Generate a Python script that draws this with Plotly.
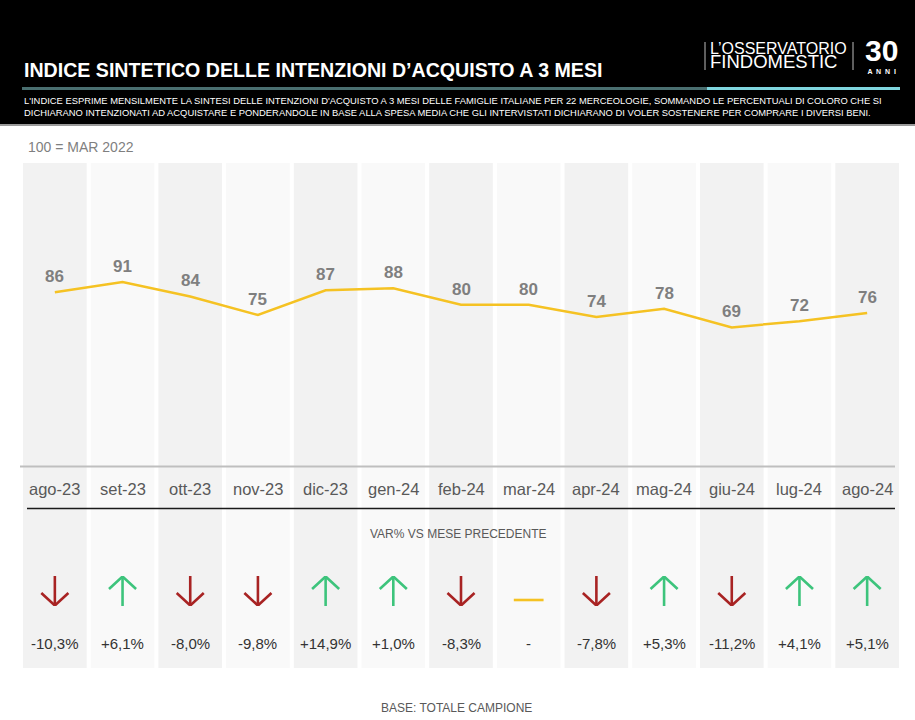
import plotly.graph_objects as go

# ---------------- data ----------------
months = ["ago-23", "set-23", "ott-23", "nov-23", "dic-23", "gen-24", "feb-24",
          "mar-24", "apr-24", "mag-24", "giu-24", "lug-24", "ago-24"]
index_values = [86, 91, 84, 75, 87, 88, 80, 80, 74, 78, 69, 72, 76]
var_pct = [-10.3, 6.1, -8.0, -9.8, 14.9, 1.0, -8.3, 0.0, -7.8, 5.3, -11.2, 4.1, 5.1]

TITLE = "INDICE SINTETICO DELLE INTENZIONI D\u2019ACQUISTO A 3 MESI"
SUB1 = ("L'INDICE ESPRIME MENSILMENTE LA SINTESI DELLE INTENZIONI D'ACQUISTO A 3 MESI DELLE FAMIGLIE "
        "ITALIANE PER 22 MERCEOLOGIE, SOMMANDO LE PERCENTUALI DI COLORO CHE SI")
SUB2 = ("DICHIARANO INTENZIONATI AD ACQUISTARE E PONDERANDOLE IN BASE ALLA SPESA MEDIA CHE GLI "
        "INTERVISTATI DICHIARANO DI VOLER SOSTENERE PER COMPRARE I DIVERSI BENI.")

# ---------------- geometry helpers ----------------
W, H = 915, 720
FONT = "Liberation Sans"


def py(pix):
    return 1 - pix / H


def px(pix):
    return pix / W


n = len(months)
xs = list(range(n))

fig = go.Figure()

# main line
fig.add_trace(go.Scatter(
    x=xs, y=index_values, mode="lines",
    line=dict(color="#F5C223", width=2.5),
    hoverinfo="skip", xaxis="x", yaxis="y"))

# arrows (lower panel, y2 in pixel-like units 0..30)
RED, GREEN, YEL = "#A82323", "#3DC47C", "#F5C223"
dn_x, dn_y, up_x, up_y, fl_x, fl_y = [], [], [], [], [], []
HW = 0.2
for i, v in enumerate(var_pct):
    if v < 0:
        dn_x += [i, i, None, i - HW, i, i + HW, None]
        dn_y += [30, 0.5, None, 13, 0.5, 13, None]
    elif v > 0:
        up_x += [i, i, None, i - HW, i, i + HW, None]
        up_y += [0, 29.5, None, 17, 29.5, 17, None]
    else:
        fl_x += [i - 0.22, i + 0.22, None]
        fl_y += [6, 6, None]
for xx, yy, c in [(dn_x, dn_y, RED), (up_x, up_y, GREEN), (fl_x, fl_y, YEL)]:
    fig.add_trace(go.Scatter(x=xx, y=yy, mode="lines", line=dict(color=c, width=2.6),
                             hoverinfo="skip", xaxis="x", yaxis="y2"))

shapes = []
# header black band
shapes.append(dict(type="rect", xref="paper", yref="paper", x0=0, x1=1, y0=py(124), y1=1,
                   fillcolor="#000000", line=dict(width=0), layer="below"))
shapes.append(dict(type="line", xref="paper", yref="paper", x0=0, x1=1, y0=py(125), y1=py(125),
                   line=dict(color="#9a9a9a", width=2)))
# teal rule
shapes.append(dict(type="line", xref="paper", yref="paper", x0=px(22), x1=px(707), y0=py(88.5), y1=py(88.5),
                   line=dict(color="#4a6f70", width=3)))
shapes.append(dict(type="line", xref="paper", yref="paper", x0=px(707), x1=px(900), y0=py(88.5), y1=py(88.5),
                   line=dict(color="#7fd6df", width=3)))
# logo bars
for bx in (705, 853):
    shapes.append(dict(type="line", xref="paper", yref="paper", x0=px(bx), x1=px(bx), y0=py(42), y1=py(70),
                       line=dict(color="#bdbdbd", width=1)))
# column bands
for i in range(n):
    shapes.append(dict(type="rect", xref="x", yref="paper", x0=i - 0.47, x1=i + 0.47,
                       y0=py(668), y1=py(163),
                       fillcolor="#f2f2f2" if i % 2 == 0 else "#f9f9f9",
                       line=dict(width=0), layer="below"))
# baselines
shapes.append(dict(type="line", xref="paper", yref="paper", x0=px(20), x1=px(895), y0=py(466.5), y1=py(466.5),
                   line=dict(color="#bfbfbf", width=2)))
shapes.append(dict(type="line", xref="paper", yref="paper", x0=px(27), x1=px(895), y0=py(508.5), y1=py(508.5),
                   line=dict(color="#1a1a1a", width=1.5)))

ann = []
# title and subtitle
ann.append(dict(text="<b>" + TITLE + "</b>", x=px(22), y=py(70), xref="paper", yref="paper",
                xanchor="left", yanchor="middle", showarrow=False,
                font=dict(family=FONT, size=19.6, color="#ffffff")))
for t, yy in [(SUB1, 101), (SUB2, 112.5)]:
    ann.append(dict(text=t, x=px(22), y=py(yy), xref="paper", yref="paper",
                    xanchor="left", yanchor="middle", showarrow=False,
                    font=dict(family=FONT, size=9.4, color="#ffffff")))
# logo (two lines in one text, tight line spacing)
ann.append(dict(text=("<span style='font-size:16px'>L\u2019OSSERVATORIO</span><br>"
                      "<span style='font-size:18.5px'>FINDOMESTIC</span>"),
                x=px(708), y=py(56), xref="paper", yref="paper", align="left",
                xanchor="left", yanchor="middle", showarrow=False,
                font=dict(family=FONT, size=10.5, color="#ffffff")))
ann.append(dict(text=("<span style='font-size:30px'><b>30</b></span><br>"
                      "<span style='font-size:7px'><b>A  N  N  I</b></span>"),
                x=px(881), y=py(55), xref="paper", yref="paper", align="center",
                xanchor="center", yanchor="middle", showarrow=False,
                font=dict(family=FONT, size=10, color="#ffffff")))
# base note
ann.append(dict(text="100 = MAR 2022", x=px(26), y=py(147), xref="paper", yref="paper",
                xanchor="left", yanchor="middle", showarrow=False,
                font=dict(family=FONT, size=14, color="#7f7f7f")))
# value labels
for i, v in enumerate(index_values):
    ann.append(dict(text="<b>%d</b>" % v, x=i, y=v, xref="x", yref="y", yshift=15.5,
                    xanchor="center", yanchor="middle", showarrow=False,
                    font=dict(family=FONT, size=17, color="#7f7f7f")))
# month labels
for i, m in enumerate(months):
    ann.append(dict(text=m, x=i, y=py(489), xref="x", yref="paper",
                    xanchor="center", yanchor="middle", showarrow=False,
                    font=dict(family=FONT, size=16.5, color="#595959")))
ann.append(dict(text="VAR% VS MESE PRECEDENTE", x=px(458), y=py(534), xref="paper", yref="paper",
                xanchor="center", yanchor="middle", showarrow=False,
                font=dict(family=FONT, size=12, color="#595959")))
# var labels
for i, v in enumerate(var_pct):
    lbl = "-" if v == 0 else ("%+.1f%%" % v).replace(".", ",")
    ann.append(dict(text=lbl, x=i, y=py(643.5), xref="x", yref="paper",
                    xanchor="center", yanchor="middle", showarrow=False,
                    font=dict(family=FONT, size=15, color="#333333")))
ann.append(dict(text="BASE: TOTALE CAMPIONE", x=px(456), y=py(708), xref="paper", yref="paper",
                xanchor="center", yanchor="middle", showarrow=False,
                font=dict(family=FONT, size=12, color="#595959")))

fig.update_layout(
    width=W, height=H, margin=dict(l=0, r=0, t=0, b=0),
    paper_bgcolor="#ffffff", plot_bgcolor="rgba(0,0,0,0)",
    showlegend=False, shapes=shapes, annotations=ann,
    xaxis=dict(domain=[px(21), px(901)], range=[-0.5, n - 0.5], visible=False, fixedrange=True),
    yaxis=dict(domain=[py(469.5), py(163)], range=[0, 148.8], visible=False, fixedrange=True),
    yaxis2=dict(domain=[py(606), py(576)], range=[0, 30], visible=False, fixedrange=True, anchor="x"),
)

fig.write_html("out.html", config={"displayModeBar": False},
               post_script="document.body.style.margin='0px';document.body.style.overflow='hidden';")
